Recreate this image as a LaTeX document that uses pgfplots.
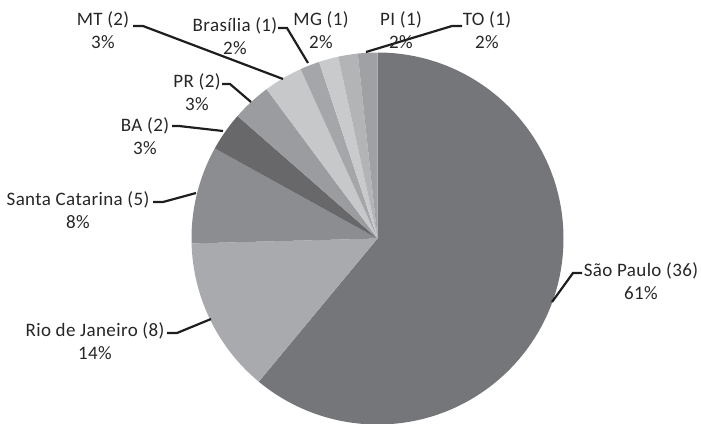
\documentclass[border=0pt]{standalone}
\usepackage{fontspec}
\setmainfont{Carlito}[LetterSpace=2]
\usepackage{pgfplots}
\usepackage{pgfplotstable}
\pgfplotsset{compat=1.18}

\definecolor{c0}{HTML}{75767A}
\definecolor{c1}{HTML}{A9AAAD}
\definecolor{c2}{HTML}{8C8D90}
\definecolor{c3}{HTML}{68686B}
\definecolor{c4}{HTML}{9B9C9F}
\definecolor{c5}{HTML}{C7C8CA}
\definecolor{c6}{HTML}{A5A6A9}
\definecolor{c7}{HTML}{C9CACC}
\definecolor{c8}{HTML}{B3B4B6}
\definecolor{c9}{HTML}{A0A1A4}
\definecolor{txt}{HTML}{262626}
\definecolor{lead}{HTML}{1E1E1E}

% state, count, percent, label centre (pixels from top left)
\pgfplotstableread[col sep=comma]{
state,n,pct,lx,ly
São Paulo,36,61,641,281
Rio de Janeiro,8,14,95,341
Santa Catarina,5,8,78,210
BA,2,3,145,136
PR,2,3,197,92
MT,2,3,103,30
Brasília,1,2,235,36
MG,1,2,321,30
PI,1,2,401,30
TO,1,2,487,30
}\piedata

\begin{document}
\begin{tikzpicture}
% total and slice angles (clockwise from 12 o'clock)
\xdef\total{0}
\foreach \i in {0,...,9}{
  \pgfplotstablegetelem{\i}{n}\of\piedata
  \pgfmathsetmacro\t{\total+\pgfplotsretval}\xdef\total{\t}
}
\xdef\cum{90}
\foreach \i in {0,...,9}{
  \pgfplotstablegetelem{\i}{n}\of\piedata \edef\nn{\pgfplotsretval}
  \pgfmathsetmacro\e{\cum-360*\nn/\total}
  \expandafter\xdef\csname sa\i\endcsname{\cum}
  \expandafter\xdef\csname ea\i\endcsname{\e}
  \xdef\cum{\e}
  \pgfplotstablegetelem{\i}{state}\of\piedata \edef\st{\pgfplotsretval}
  \pgfplotstablegetelem{\i}{pct}\of\piedata \edef\pc{\pgfplotsretval}
  \expandafter\xdef\csname lab\i\endcsname{\st\space(\nn)\noexpand\\\pc\noexpand\%}
  \pgfplotstablegetelem{\i}{lx}\of\piedata \expandafter\xdef\csname lx\i\endcsname{\pgfplotsretval}
  \pgfplotstablegetelem{\i}{ly}\of\piedata \expandafter\xdef\csname ly\i\endcsname{\pgfplotsretval}
}
\begin{axis}[
    x=1bp, y=1bp,
    xmin=0, xmax=701, ymin=0, ymax=424,
    y dir=reverse,
    hide axis, clip=false,
]
\pgfplotsinvokeforeach{0,...,9}{
  \fill[c#1] (axis cs:377.5,238.5) -- ++(\csname sa#1\endcsname:186bp)
    arc[start angle=\csname sa#1\endcsname, end angle=\csname ea#1\endcsname, radius=186bp] -- cycle;
}
% leader lines
\begin{scope}[lead, line width=2.2bp]
\draw (axis cs:582,273) -- (axis cs:573,273) -- (axis cs:552,302);
\draw (axis cs:167,333) -- (axis cs:177,333) -- (axis cs:211,319);
\draw (axis cs:153,202) -- (axis cs:163,202) -- (axis cs:196,193);
\draw (axis cs:172,126) -- (axis cs:179,126) -- (axis cs:223,131);
\draw (axis cs:222,84) -- (axis cs:230,84) -- (axis cs:251,102);
\draw (axis cs:133,26) -- (axis cs:143,26) -- (axis cs:283,79);
\draw (axis cs:278,28) -- (axis cs:287,28) -- (axis cs:308,63);
\draw (axis cs:462,26) -- (axis cs:452,26) -- (axis cs:366,52);
\end{scope}
\pgfplotsinvokeforeach{0,...,9}{
  \node[align=center, text=txt, inner sep=0pt,
        font=\fontsize{19bp}{23.5bp}\selectfont]
    at (axis cs:\csname lx#1\endcsname,\csname ly#1\endcsname) {\csname lab#1\endcsname};
}
\end{axis}
\pgfresetboundingbox
\path (0,0) rectangle (701bp,424bp);
\end{tikzpicture}
\end{document}
